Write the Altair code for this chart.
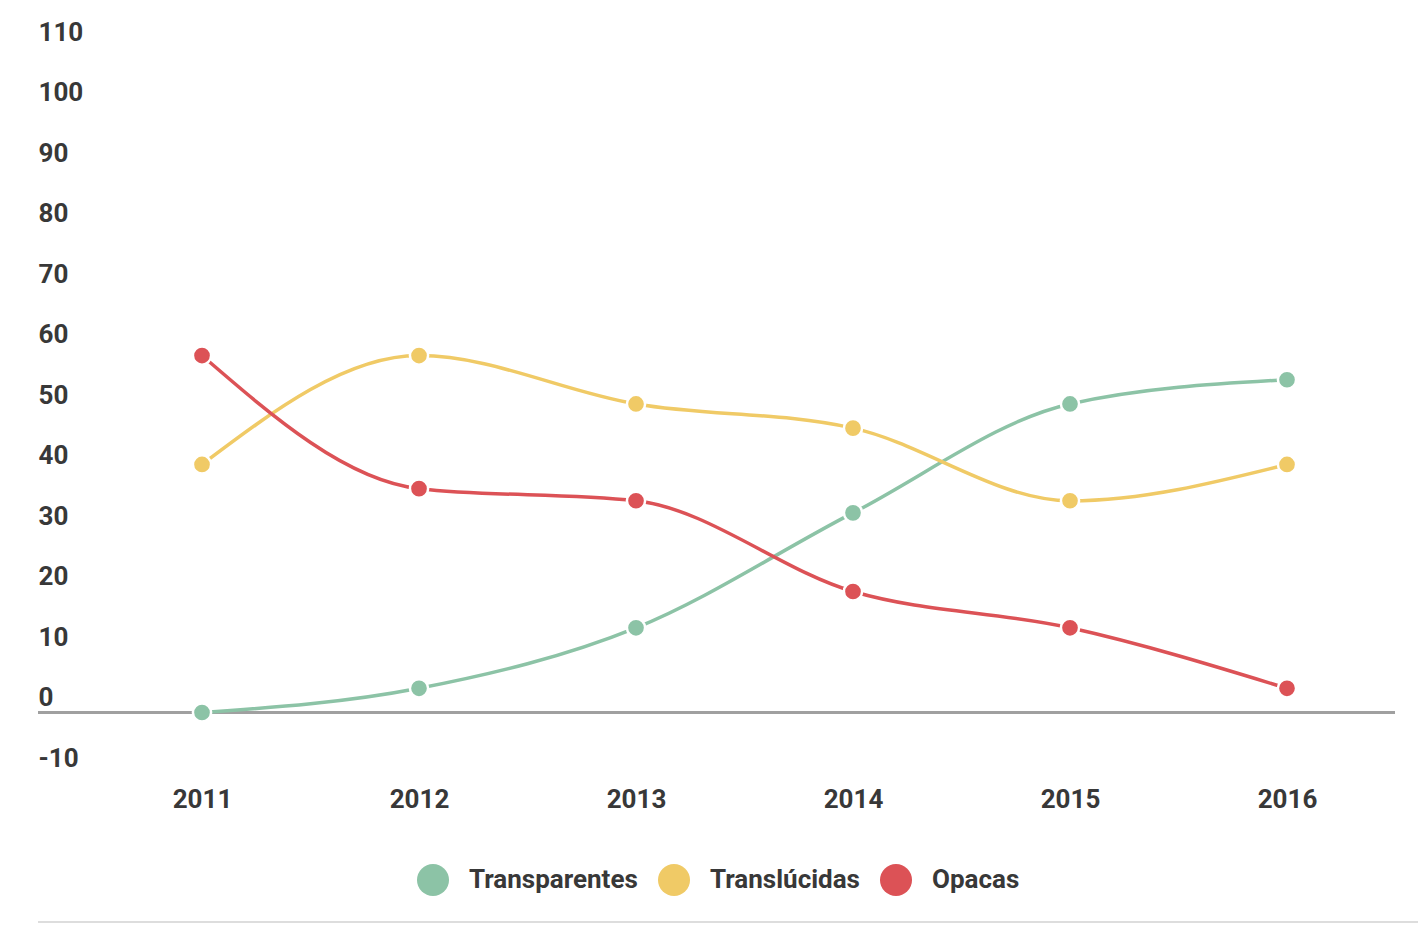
import altair as alt
import pandas as pd

years = [2011, 2012, 2013, 2014, 2015, 2016]
series_names = ["Transparentes", "Translúcidas", "Opacas"]
transparentes = [0, 4, 14, 33, 51, 55]
translucidas = [41, 59, 51, 47, 35, 41]
opacas = [59, 37, 35, 20, 14, 4]
colors = ["#8cc3a6", "#f0ca66", "#dc5256"]
y_ticks = [-10, 0, 10, 20, 30, 40, 50, 60, 70, 80, 90, 100, 110]

rows = []
for name, vals in zip(series_names, [transparentes, translucidas, opacas]):
    for yr, v in zip(years, vals):
        rows.append({"year": yr, "value": v, "serie": name})
df = pd.DataFrame(rows)

W, H = 1357, 726
FONT = "Roboto"
TXT = "#383838"

x = alt.X("year:Q", scale=alt.Scale(domain=[2010.2442, 2016.4977], nice=False, zero=False),
          axis=alt.Axis(values=years, format="d", title=None, domain=False, ticks=False,
                        grid=False, labelFont=FONT, labelFontSize=26, labelFontWeight="bold",
                        labelColor=TXT, labelPadding=13, labelFlush=False))
y = alt.Y("value:Q", scale=alt.Scale(domain=[-10, 110], nice=False, zero=False),
          axis=alt.Axis(values=y_ticks, title=None, domain=False, ticks=False, tickSize=0,
                        grid=False, labelFont=FONT, labelFontSize=26, labelFontWeight="bold",
                        labelColor=TXT, labelAlign="left", labelBaseline="alphabetic",
                        labelPadding=0, labelOffset=-7,
                        labelExpr="datum.value < 0 ? '-' + abs(datum.value) : '' + datum.value"))
color_scale = alt.Scale(domain=series_names, range=colors)
legend = alt.Legend(title=None, orient="none", direction="horizontal",
                    legendX=379, legendY=817,
                    symbolType="circle", symbolSize=1024,
                    symbolStrokeWidth=0, symbolOpacity=1,
                    labelFont=FONT, labelFontSize=26, labelFontWeight="bold",
                    labelColor=TXT, labelOffset=20, columnPadding=20, labelLimit=500,
                    padding=0, offset=0)
color = alt.Color("serie:N", scale=color_scale, sort=series_names, legend=legend)

zero = alt.Chart(df).mark_rule(color="#a0a0a0", strokeWidth=2).encode(y=alt.datum(0))

lines = alt.Chart(df).mark_line(interpolate="monotone", strokeWidth=3.5).encode(
    x=x, y=y, color=color, detail="serie:N",
)

points = alt.Chart(df).mark_point(filled=True, size=330, stroke="white", strokeWidth=2.5,
                                  opacity=1).encode(x=x, y=y, color=color)

sep = alt.Chart(df).mark_rule(color="#dddddd", strokeWidth=2).encode(
    x=alt.value(0), x2=alt.value(1380), y=alt.value(875))

chart = alt.layer(zero, lines, points, sep).properties(
    width=W, height=H,
    autosize=alt.AutoSizeParams(type="none"),
    padding={"left": 30, "top": 39, "right": 23, "bottom": 155},
    background="white",
).configure_view(strokeWidth=0, stroke="transparent")

chart.save("out.html", embed_options={"renderer": "svg", "actions": False})
